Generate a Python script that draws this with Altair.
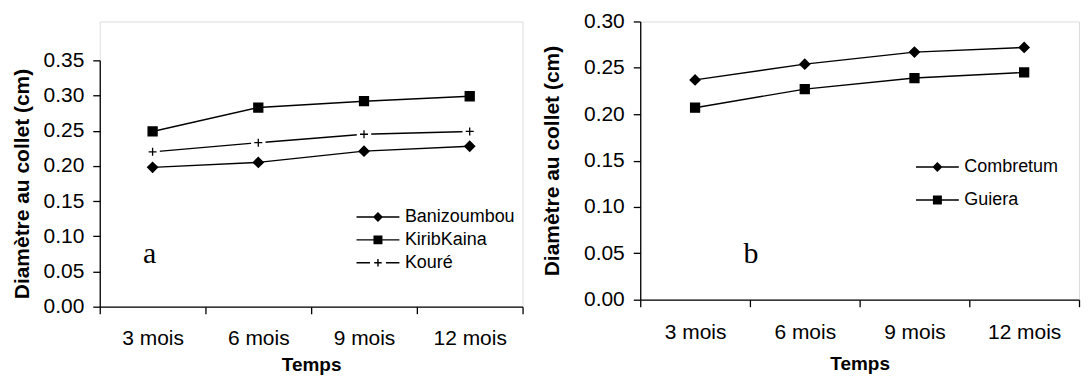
import altair as alt
import pandas as pd

# ---------------- data ----------------
months = ["3 mois", "6 mois", "9 mois", "12 mois"]

sites_a = ["Banizoumbou", "KiribKaina", "Kouré"]
banizoumbou = [0.198, 0.205, 0.221, 0.228]
kiribkaina = [0.249, 0.283, 0.292, 0.299]
koure = [0.220, 0.233, 0.245, 0.249]

species_b = ["Combretum", "Guiera"]
combretum = [0.237, 0.254, 0.267, 0.272]
guiera = [0.207, 0.227, 0.239, 0.245]

y_ticks_a = [0.00, 0.05, 0.10, 0.15, 0.20, 0.25, 0.30, 0.35]
y_ticks_b = [0.00, 0.05, 0.10, 0.15, 0.20, 0.25, 0.30]

panel_letters = ["a", "b"]
letter_months = ["3 mois", "3 mois"]
letter_values = [0.062, 0.040]

y_title = "Diamètre au collet (cm)"
x_title = "Temps"

# ---------------- styling ----------------
SANS = "Liberation Sans"
SERIF = "Liberation Serif"
FS = 21
XTFS = 19
LFS = 18

DIAMOND = "M0,-1L1,0L0,1L-1,0Z"
SQUARE = "M-0.9,-0.9H0.9V0.9H-0.9Z"
PLUS = "M-0.8,0H0.8M0,-0.8V0.8"
GAP = "M-1.45,-0.45H1.45V0.45H-1.45Z"

LEG_LINE = "M-4.3,-0.14H4.3V0.14H-4.3Z"
LEG_DIAMOND = LEG_LINE + "M0,-1L1,0L0,1L-1,0Z"
LEG_SQUARE = LEG_LINE + "M-0.9,-0.9H0.9V0.9H-0.9Z"
LEG_PLUS = ("M-4.3,-0.14H-1.6V0.14H-4.3Z"
            "M1.6,-0.14H4.3V0.14H1.6Z"
            "M-0.75,-0.14H0.75V0.14H-0.75Z"
            "M-0.14,-0.75H0.14V0.75H-0.14Z")


def long_table(names, series):
    rows = []
    for name, vals in zip(names, series):
        for m, v in zip(months, vals):
            rows.append({"serie": name, "mois": m, "val": v})
    return pd.DataFrame(rows)


df_a = long_table(sites_a, [banizoumbou, kiribkaina, koure])
df_b = long_table(species_b, [combretum, guiera])
df_letters = pd.DataFrame({"lettre": panel_letters, "mois": letter_months, "val": letter_values})


def x_enc(label_pad, title_pad):
    return alt.X("mois:N", sort=months,
                 scale=alt.Scale(domain=months, paddingInner=0, paddingOuter=0),
                 axis=alt.Axis(title=x_title, labelAngle=0, tickBand="extent",
                               tickSize=7, labelPadding=label_pad, titlePadding=title_pad,
                               domainColor="black", tickColor="black",
                               domainWidth=1.3, tickWidth=1.3,
                               labelFont=SANS, labelFontSize=FS, labelColor="black",
                               titleFont=SANS, titleFontSize=XTFS, titleFontWeight="bold",
                               titleColor="black", grid=False))


def y_enc(top, ticks, title_pad, y_range):
    return alt.Y("val:Q",
                 scale=alt.Scale(domain=[0, top], nice=False, zero=True, range=y_range),
                 axis=alt.Axis(title=y_title, values=ticks, format=".2f",
                               tickSize=7, labelPadding=9, titlePadding=title_pad,
                               labelOverlap=False,
                               domainColor="black", tickColor="black",
                               domainWidth=1.3, tickWidth=1.3,
                               labelFont=SANS, labelFontSize=FS, labelColor="black",
                               titleFont=SANS, titleFontSize=FS, titleFontWeight="bold",
                               titleColor="black", grid=False))


def panel(df, names, marker_paths, legend_paths, top, ticks, ytitle_pad,
          xlabel_pad, xtitle_pad, legend_x, legend_y, row_pad, letter, letter_dx,
          width, height, y_range, gap_serie=None):
    xe = x_enc(xlabel_pad, xtitle_pad)
    ye = y_enc(top, ticks, ytitle_pad, y_range)
    base = alt.Chart(df).encode(x=xe, y=ye)
    lines = base.mark_line(color="black", strokeWidth=1.4).encode(detail="serie:N")
    layers = [lines]
    if gap_serie is not None:
        gap = base.transform_filter(alt.datum.serie == gap_serie).mark_point(
            shape=GAP, filled=True, color="white", opacity=1, size=100, strokeWidth=0)
        layers.append(gap)
    markers = base.mark_point(filled=True, color="black", stroke="black",
                              strokeWidth=1.3, opacity=1, size=100).encode(
        shape=alt.Shape("serie:N", scale=alt.Scale(domain=names, range=marker_paths),
                        legend=None))
    layers.append(markers)
    legend_layer = base.mark_point(filled=True, color="black",
                                   opacity=0, size=100).encode(
        shape=alt.Shape("serie:N", scale=alt.Scale(domain=names, range=legend_paths),
                        legend=alt.Legend(title=None, orient="none",
                                          legendX=legend_x, legendY=legend_y,
                                          labelFont=SANS, labelFontSize=LFS,
                                          labelColor="black", labelOffset=18,
                                          symbolSize=100, symbolOpacity=1,
                                          symbolFillColor="black",
                                          rowPadding=row_pad)))
    layers.append(legend_layer)
    txt = alt.Chart(df_letters).transform_filter(alt.datum.lettre == letter).mark_text(
        font=SERIF, fontSize=30, color="black", align="center", baseline="alphabetic",
        dx=letter_dx).encode(x=xe, y=ye, text="lettre:N")
    layers.append(txt)
    return alt.layer(*layers).resolve_scale(shape="independent").properties(
        width=width, height=height)


chart_a = panel(df_a, sites_a, [DIAMOND, SQUARE, PLUS],
                [LEG_DIAMOND, LEG_SQUARE, LEG_PLUS], 0.35, y_ticks_a, 11, 14, 7,
                270, 187, 5, "a", -3, 424, 286, [286, 39], gap_serie="Kouré")

chart_b = panel(df_b, species_b, [DIAMOND, SQUARE],
                [LEG_DIAMOND, LEG_SQUARE], 0.30, y_ticks_b, 21, 15, 12,
                289, 137, 15, "b", 56, 440, 279, [279, 0])

chart = alt.hconcat(chart_a, chart_b, spacing=16).properties(
    padding={"left": 2, "top": 1, "right": 0, "bottom": 0}
).configure_view(stroke=None).configure(background="white")

chart.save("out.html", embed_options={"renderer": "svg", "actions": False})
